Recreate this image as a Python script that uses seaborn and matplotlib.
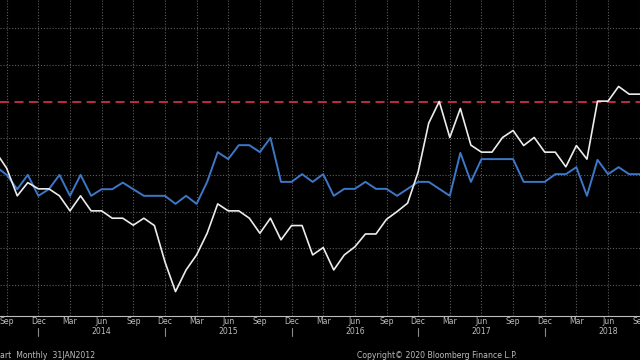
import matplotlib
matplotlib.use("Agg")
import matplotlib.pyplot as plt
import seaborn as sns
import pandas as pd
import numpy as np

# Monthly data: Aug 2013 .. Sep 2018
months = pd.date_range("2013-08-01", "2018-09-01", freq="MS")
white_values = [3.61, 3.18, 2.43, 2.79, 2.62, 2.62, 2.43, 2.02, 2.43, 2.02, 2.02,
                1.82, 1.82, 1.63, 1.82, 1.62, 0.63, -0.18, 0.41, 0.82, 1.41, 2.21,
                2.02, 2.02, 1.82, 1.41, 1.82, 1.23, 1.62, 1.62, 0.82, 1.02, 0.41,
                0.82, 1.04, 1.39, 1.39, 1.79, 2.00, 2.23, 3.08, 4.41, 5.00, 4.02,
                4.81, 3.81, 3.62, 3.62, 4.02, 4.21, 3.80, 4.02, 3.62, 3.62, 3.22,
                3.80, 3.43, 5.01, 5.01, 5.41, 5.20, 5.20]
blue_values = [3.22, 3.00, 2.61, 3.00, 2.43, 2.61, 3.00, 2.43, 3.00, 2.43, 2.61,
               2.61, 2.79, 2.61, 2.43, 2.43, 2.43, 2.21, 2.43, 2.21, 2.81, 3.62,
               3.43, 3.81, 3.81, 3.62, 4.01, 2.81, 2.81, 3.02, 2.81, 3.02, 2.43,
               2.62, 2.62, 2.81, 2.62, 2.62, 2.43, 2.62, 2.81, 2.81, 2.62, 2.43,
               3.60, 2.81, 3.43, 3.43, 3.43, 3.43, 2.81, 2.81, 2.81, 3.02, 3.02,
               3.21, 2.43, 3.41, 3.02, 3.21, 3.02, 3.02]
threshold = 5.0
month_labels = ["Sep", "Dec", "Mar", "Jun"] * 5 + ["Sep"]
year_labels = ["2014", "2015", "2016", "2017", "2018"]
footer_left = "art  Monthly  31JAN2012"
footer_right = "Copyright\u00a9 2020 Bloomberg Finance L.P."

df = pd.DataFrame({"month": months, "white": white_values, "blue": blue_values})
df["idx"] = np.arange(len(df)) - 1  # 0 = Sep 2013

sns.set_style("dark")
plt.rcParams["font.family"] = ["DejaVu Sans"]

fig = plt.figure(figsize=(6.4, 3.6), dpi=100, facecolor="black")
ax = fig.add_axes([0, 1 - 316 / 360, 1, 316 / 360])
ax.set_facecolor("black")

# grid
grid_kw = dict(color="#5c5c5c", lw=0.8, linestyle=(0, (1, 1.6)), zorder=0)
for v in range(0, 8):
    if v != 5:
        ax.axhline(v, **grid_kw)
quarter_pos = df["idx"][(df["idx"] >= 0) & (df["idx"] % 3 == 0)].tolist()
for q in quarter_pos:
    ax.axvline(q, **grid_kw)

ax.axhline(threshold, color="#c9304a", lw=1.3, linestyle=(0, (5, 3)), zorder=1)

sns.lineplot(data=df, x="idx", y="blue", ax=ax, color="#3d78c8", lw=1.4, zorder=2)
sns.lineplot(data=df, x="idx", y="white", ax=ax, color="#ececec", lw=1.2, zorder=3)

ax.set_xlim(-6.7 / 10.55, (640 - 6.7) / 10.55)
ax.set_ylim((285 - 316) / 36.7, 285 / 36.7)

for s in ["top", "right", "left"]:
    ax.spines[s].set_visible(False)
ax.spines["bottom"].set_color("#bdbdbd")
ax.spines["bottom"].set_linewidth(0.8)

ax.set_yticks([])
ax.set_xticks(quarter_pos)
ax.set_xticklabels(month_labels, fontsize=5.6, color="#bcbcbc")
ax.set_xticks(df["idx"][df["idx"] >= 0].tolist(), minor=True)
ax.tick_params(axis="x", which="both", direction="in", color="#bdbdbd",
               length=2.5, width=0.7, pad=0.8)
ax.set_xlabel("")
ax.set_ylabel("")

xt = ax.get_xaxis_transform()
year_pos = [9, 21, 33, 45, 57]
for p, lab in zip(year_pos, year_labels):
    ax.text(p, -(331.5 - 316) / 316, lab, transform=xt, ha="center", va="center",
            fontsize=5.6, color="#bcbcbc")
for p in [3, 15, 27, 39, 51]:
    ax.plot([p, p], [-(327.5 - 316) / 316, -(335.5 - 316) / 316], transform=xt,
            color="#8a8a8a", lw=0.8, clip_on=False)

fig.text(0 / 640, 1 - 355 / 360, footer_left, ha="left", va="center",
         fontsize=5.6, color="#bcbcbc")
fig.text(357 / 640, 1 - 355 / 360, footer_right, ha="left", va="center",
         fontsize=5.6, color="#bcbcbc")

fig.savefig("out.png", dpi=100, facecolor="black")
